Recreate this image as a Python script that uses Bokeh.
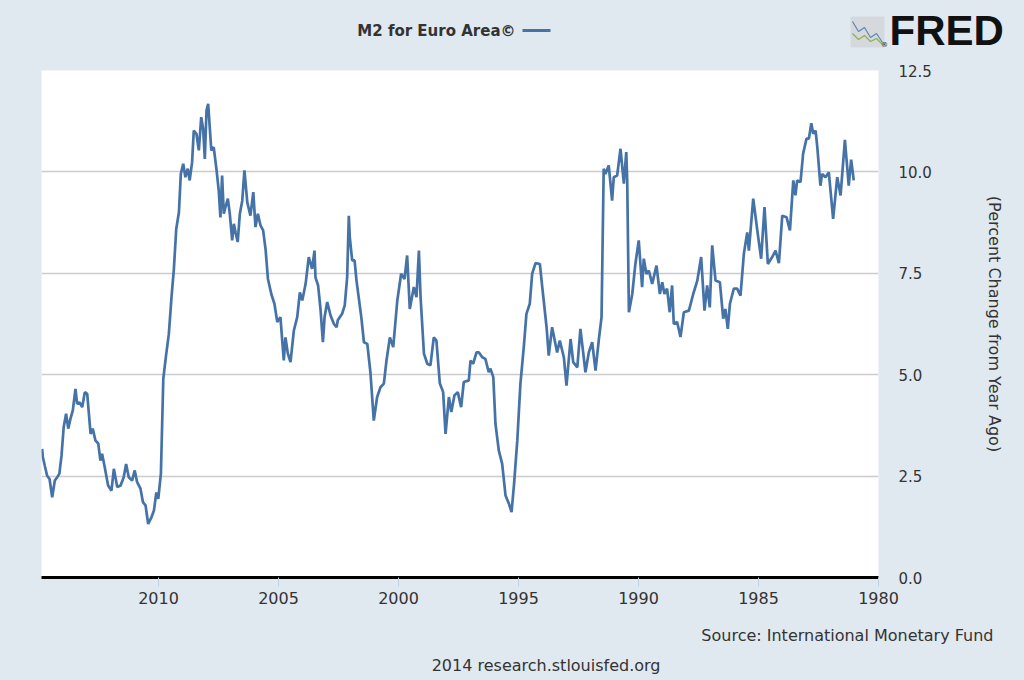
from bokeh.plotting import figure
from bokeh.models import Range1d, FixedTicker, LinearAxis
from bokeh.layouts import column, row
from bokeh.core.properties import value
from bokeh.embed import file_html
from bokeh.resources import INLINE

# ---- data ----
years = [
    1981.03, 1981.14, 1981.24, 1981.40, 1981.58, 1981.72, 1981.89, 1982.07, 1982.21, 1982.35,
    1982.42, 1982.55, 1982.62, 1982.72, 1982.80, 1982.90, 1983.00, 1983.14, 1983.25, 1983.39,
    1983.46, 1983.55, 1983.69, 1983.83, 1984.01, 1984.15, 1984.29, 1984.43, 1984.61, 1984.75,
    1984.89, 1985.03, 1985.22, 1985.40, 1985.47, 1985.61, 1985.75, 1985.89, 1986.03, 1986.19,
    1986.28, 1986.38, 1986.47, 1986.61, 1986.79, 1986.93, 1987.03, 1987.14, 1987.25, 1987.39,
    1987.55, 1987.72, 1987.90, 1988.11, 1988.25, 1988.39, 1988.53, 1988.60, 1988.70, 1988.81,
    1988.92, 1989.01, 1989.11, 1989.25, 1989.43, 1989.57, 1989.67, 1989.78, 1989.85, 1989.99,
    1990.13, 1990.26, 1990.40, 1990.47, 1990.51, 1990.61, 1990.75, 1990.89, 1991.03, 1991.10,
    1991.24, 1991.38, 1991.45, 1991.54, 1991.65, 1991.79, 1991.93, 1992.07, 1992.21, 1992.42,
    1992.55, 1992.72, 1992.83, 1993.00, 1993.11, 1993.28, 1993.39, 1993.60, 1993.74, 1993.83,
    1994.01, 1994.11, 1994.29, 1994.43, 1994.53, 1994.67, 1994.78, 1994.92, 1995.05, 1995.19,
    1995.29, 1995.40, 1995.54, 1995.68, 1995.82, 1995.96, 1996.05, 1996.17, 1996.24, 1996.38,
    1996.51, 1996.65, 1996.75, 1996.89, 1997.00, 1997.07, 1997.28, 1997.39, 1997.53, 1997.67,
    1997.80, 1997.90, 1998.04, 1998.14, 1998.28, 1998.42, 1998.53, 1998.67, 1998.80, 1998.94,
    1999.08, 1999.15, 1999.25, 1999.36, 1999.53, 1999.64, 1999.75, 1999.89, 2000.05, 2000.22,
    2000.36, 2000.50, 2000.61, 2000.75, 2000.89, 2001.03, 2001.17, 2001.30, 2001.44, 2001.55,
    2001.65, 2001.75, 2001.83, 2001.93, 2002.03, 2002.07, 2002.14, 2002.24, 2002.35, 2002.53,
    2002.58, 2002.69, 2002.83, 2002.97, 2003.08, 2003.15, 2003.25, 2003.35, 2003.46, 2003.50,
    2003.60, 2003.74, 2003.87, 2004.01, 2004.11, 2004.22, 2004.36, 2004.50, 2004.61, 2004.71,
    2004.78, 2004.92, 2005.05, 2005.17, 2005.30, 2005.44, 2005.54, 2005.64, 2005.75, 2005.86,
    2005.96, 2006.05, 2006.17, 2006.30, 2006.42, 2006.51, 2006.61, 2006.70, 2006.79, 2006.86,
    2006.93, 2007.03, 2007.11, 2007.21, 2007.28, 2007.35, 2007.42, 2007.49, 2007.58, 2007.70,
    2007.80, 2007.86, 2007.93, 2008.00, 2008.07, 2008.14, 2008.22, 2008.32, 2008.42, 2008.53,
    2008.60, 2008.70, 2008.78, 2008.88, 2008.97, 2009.07, 2009.15, 2009.26, 2009.36, 2009.46,
    2009.57, 2009.68, 2009.80, 2009.90, 2010.01, 2010.09, 2010.19, 2010.29, 2010.43, 2010.54,
    2010.65, 2010.75, 2010.89, 2010.99, 2011.10, 2011.24, 2011.35, 2011.45, 2011.58, 2011.72,
    2011.86, 2011.96, 2012.10, 2012.24, 2012.35, 2012.42, 2012.51, 2012.63, 2012.74, 2012.83,
    2012.97, 2013.07, 2013.18, 2013.29, 2013.39, 2013.46, 2013.57, 2013.67, 2013.76, 2013.85,
    2013.95, 2014.04, 2014.13, 2014.22, 2014.32, 2014.43, 2014.54, 2014.64, 2014.74, 2014.82,
    2014.85,
]
m2_growth = [
    9.79, 10.30, 9.66, 10.79, 9.42, 9.87, 8.84, 9.99, 9.87, 9.95,
    9.66, 10.61, 11.02, 10.94, 11.20, 10.82, 10.82, 10.45, 9.75, 9.79,
    9.42, 9.79, 8.56, 8.88, 8.92, 7.75, 8.06, 7.90, 7.73, 9.13,
    7.86, 8.47, 9.34, 8.06, 8.51, 7.98, 6.95, 7.12, 7.12, 6.75,
    6.13, 6.62, 6.38, 7.28, 7.32, 8.19, 6.66, 7.20, 6.58, 7.90,
    7.32, 6.99, 6.58, 6.54, 5.93, 6.30, 6.25, 7.20, 6.54, 7.12,
    6.99, 7.28, 6.99, 7.69, 7.24, 7.57, 7.48, 7.86, 7.16, 8.31,
    7.73, 6.99, 6.54, 9.79, 10.49, 9.71, 10.57, 9.91, 9.87, 9.29,
    10.16, 9.95, 10.08, 6.42, 5.88, 5.10, 5.80, 5.55, 5.06, 6.13,
    5.18, 5.31, 5.88, 4.73, 5.43, 5.84, 5.55, 6.17, 5.47, 6.17,
    7.16, 7.73, 7.75, 7.49, 6.75, 6.50, 5.68, 4.78, 3.38, 2.27,
    1.61, 1.82, 2.02, 2.80, 3.13, 3.79, 4.94, 5.15, 5.06, 5.39,
    5.43, 5.55, 5.55, 5.27, 5.35, 4.86, 4.82, 4.20, 4.57, 4.49,
    4.08, 4.45, 3.54, 4.57, 4.79, 5.84, 5.92, 5.23, 5.27, 5.52,
    6.91, 8.06, 6.91, 7.16, 6.62, 7.94, 7.36, 7.49, 6.83, 5.68,
    5.92, 5.35, 4.78, 4.69, 4.45, 3.87, 5.06, 5.76, 5.80, 6.42,
    6.87, 7.32, 7.82, 7.82, 8.39, 8.92, 7.40, 6.71, 6.50, 6.34,
    6.17, 6.25, 6.46, 6.79, 6.42, 5.80, 6.62, 7.20, 7.40, 8.06,
    7.61, 7.90, 7.24, 6.83, 7.03, 6.42, 6.09, 5.31, 5.52, 5.92,
    5.35, 6.42, 6.30, 6.75, 6.99, 7.36, 8.10, 8.56, 8.68, 8.97,
    8.64, 9.50, 8.92, 9.25, 10.04, 9.29, 8.97, 8.27, 8.51, 8.72,
    8.31, 8.97, 9.34, 9.13, 8.97, 9.91, 8.88, 9.54, 10.04, 10.61,
    10.53, 11.06, 11.68, 11.51, 10.32, 11.06, 11.35, 10.53, 10.94, 11.02,
    10.24, 9.79, 10.08, 9.87, 10.20, 9.95, 9.00, 8.60, 7.60, 6.90,
    6.00, 5.50, 4.90, 2.56, 1.94, 2.10, 1.65, 1.49, 1.32, 1.78,
    1.86, 2.19, 2.35, 2.64, 2.39, 2.47, 2.80, 2.47, 2.27, 2.23,
    2.68, 2.14, 2.27, 2.72, 3.05, 2.88, 3.30, 3.38, 3.67, 3.54,
    4.53, 4.57, 4.20, 4.32, 4.28, 4.65, 4.12, 3.91, 3.67, 4.04,
    3.71, 3.01, 2.56, 2.47, 2.39, 1.98, 2.43, 2.51, 2.76, 2.97,
    3.17,
]
x_ticks = [1980, 1985, 1990, 1995, 2000, 2005, 2010]
x_tick_labels = ["1980", "1985", "1990", "1995", "2000", "2005", "2010"]
y_ticks = [0, 2.5, 5, 7.5, 10, 12.5]
y_tick_labels = ["0.0", "2.5", "5.0", "7.5", "10.0", "12.5"]
series_name = "M2 for Euro Area\u00a9"
y_title = "(Percent Change from Year Ago)"
source_text = "Source: International Monetary Fund"
credit_text = "2014 research.stlouisfed.org"

BG = "#e1e9f0"
LINE = "#4572a7"
TXT = "#333333"
FONT = "DejaVu Sans"
W = 1024


def blank(height):
    f = figure(width=W, height=height, output_backend="svg", toolbar_location=None,
               x_range=Range1d(0, W), y_range=Range1d(0, height),
               x_axis_location=None, y_axis_location=None,
               min_border=0, min_border_left=0, min_border_right=0,
               min_border_top=0, min_border_bottom=0)
    f.border_fill_color = BG
    f.background_fill_color = BG
    f.outline_line_color = None
    f.grid.visible = False
    return f


# ---------- header (legend + FRED logo) ----------
HH = 60
head = blank(HH)
head.text(x=[515], y=[HH - 30], text=[series_name], text_align="right", text_baseline="middle",
          text_font=value(FONT), text_font_size="15px", text_font_style="bold", text_color=TXT)
head.segment(x0=[522], y0=[HH - 30], x1=[550], y1=[HH - 30], line_color=LINE, line_width=3)
# small logo icon
head.quad(left=[850], right=[884], bottom=[HH - 47], top=[HH - 16],
          fill_color="#d5d9dd", line_color=None)
head.line(x=[852, 858, 864, 870, 876, 882], y=[HH - 21, HH - 31, HH - 27, HH - 37, HH - 33, HH - 42],
          line_color="#5b86b8", line_width=1.2)
head.line(x=[852, 858, 864, 870, 876, 882], y=[HH - 33, HH - 39, HH - 35, HH - 41, HH - 38, HH - 44],
          line_color="#8ab04a", line_width=1.2)
head.text(x=[889], y=[HH - 30], text=["FRED"], text_align="left", text_baseline="middle",
          text_font=value("Liberation Sans"), text_font_size="42px", text_font_style="bold",
          text_color="#111111")
head.text(x=[884], y=[HH - 44], text=["\u00ae"], text_align="center", text_baseline="middle",
          text_font=value(FONT), text_font_size="7px", text_color="#111111")

# ---------- main plot ----------
MAIN_TOP = HH          # page y where the main figure begins
FRAME_TOP, FRAME_BOT = 70, 577
MAIN_BOT = 625
p = figure(width=W, height=MAIN_BOT - MAIN_TOP, output_backend="svg", toolbar_location=None,
           x_range=Range1d(2014.875, 1980), y_range=Range1d(0, 12.5),
           x_axis_location=None, y_axis_location=None,
           min_border_left=41, min_border_right=W - 878,
           min_border_top=FRAME_TOP - MAIN_TOP, min_border_bottom=MAIN_BOT - FRAME_BOT)
p.border_fill_color = BG
p.background_fill_color = "white"
p.outline_line_color = None

p.line(years, m2_growth, line_color=LINE, line_width=2.7)

xa = LinearAxis(ticker=FixedTicker(ticks=x_ticks),
                major_label_overrides={t: l for t, l in zip(x_ticks, x_tick_labels)})
xa.axis_line_color = "black"
xa.axis_line_width = 3
xa.major_tick_line_color = "#c0d0e0"
xa.major_tick_line_width = 1
xa.major_tick_out = 9
xa.major_tick_in = 0
xa.minor_tick_line_color = None
xa.major_label_standoff = 5
xa.major_label_text_font = FONT
xa.major_label_text_font_size = "16px"
xa.major_label_text_color = TXT
p.add_layout(xa, "below")

ya = LinearAxis(ticker=FixedTicker(ticks=y_ticks),
                major_label_overrides={t: l for t, l in zip(y_ticks, y_tick_labels)},
                axis_label=y_title)
ya.axis_line_color = None
ya.major_tick_line_color = None
ya.minor_tick_line_color = None
ya.major_tick_out = 0
ya.major_tick_in = 0
ya.major_label_standoff = 20
ya.major_label_text_font = FONT
ya.major_label_text_font_size = "15px"
ya.major_label_text_color = TXT
ya.axis_label_text_font = FONT
ya.axis_label_text_font_size = "16px"
ya.axis_label_text_font_style = "normal"
ya.axis_label_text_color = TXT
ya.axis_label_standoff = 50
p.add_layout(ya, "right")

p.ygrid.grid_line_color = "#cccccc"
p.ygrid.grid_line_width = 1.5
p.ygrid.ticker = FixedTicker(ticks=y_ticks)
p.xgrid.grid_line_color = None

# ---------- footer (source / credit) ----------
FH = 680 - MAIN_BOT
foot = blank(FH)
foot.text(x=[993], y=[680 - 635], text=[source_text], text_align="right", text_baseline="middle",
          text_font=value(FONT), text_font_size="16px", text_color=TXT)
foot.text(x=[660], y=[680 - 665], text=[credit_text], text_align="right", text_baseline="middle",
          text_font=value(FONT), text_font_size="16px", text_color=TXT)

# wrap each figure in its own row so the column does not align their frames
layout = column(row(head), row(p), row(foot), spacing=0)

html = file_html(layout, INLINE)
html = html.replace("<head>", "<head><style>html,body{background:%s;margin:0;padding:0;}</style>" % BG, 1)
open("out.html", "w").write(html)
